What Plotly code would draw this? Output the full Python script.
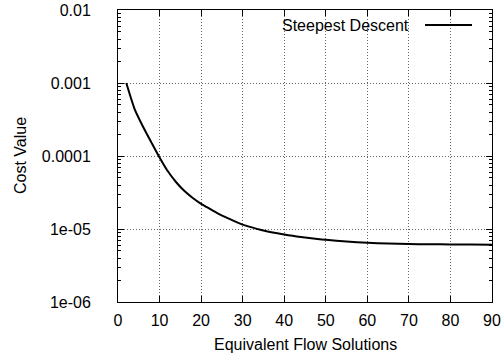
import plotly.graph_objects as go

# Data
solutions = [2, 4, 6, 8, 10, 12, 14, 16, 18, 20, 22, 24, 26, 28, 30, 32, 34, 36, 38, 40,
             42, 44, 46, 48, 50, 55, 60, 65, 70, 75, 80, 85, 90]
cost = [1.0e-3, 4.4e-4, 2.54e-4, 1.55e-4, 9.55e-5, 6.17e-5, 4.37e-5, 3.31e-5, 2.66e-5, 2.21e-5,
        1.90e-5, 1.64e-5, 1.44e-5, 1.28e-5, 1.15e-5, 1.06e-5, 9.84e-6, 9.25e-6, 8.79e-6, 8.41e-6,
        8.07e-6, 7.78e-6, 7.52e-6, 7.30e-6, 7.11e-6, 6.73e-6, 6.46e-6, 6.31e-6, 6.22e-6, 6.18e-6,
        6.15e-6, 6.13e-6, 6.1e-6]
series_name = "Steepest Descent"

x_ticks = [0, 10, 20, 30, 40, 50, 60, 70, 80, 90]
y_ticks = [1e-6, 1e-5, 1e-4, 1e-3, 1e-2]
y_tick_text = ["1e-06", "1e-05", "0.0001", "0.001", "0.01"]
y_minor_ticks = [m * d for d in [1e-6, 1e-5, 1e-4, 1e-3] for m in range(2, 10)]

x_title = "Equivalent Flow Solutions"
y_title = "Cost Value"

FONT = "Liberation Sans, Arial, Helvetica, sans-serif"
FS = 16

fig = go.Figure()
fig.add_trace(go.Scatter(
    x=solutions, y=cost, mode="lines", name=series_name,
    line=dict(color="black", width=2, shape="spline", smoothing=0.6), showlegend=False,
))

axis_common = dict(
    showline=True, linecolor="black", linewidth=1, mirror="allticks",
    ticks="inside", ticklen=6, tickcolor="black", tickwidth=1,
    showgrid=True, gridcolor="#666666", griddash="1px,2px", gridwidth=1,
    zeroline=False, automargin=False,
    tickfont=dict(family=FONT, size=FS, color="black"),
)

fig.update_layout(
    width=503, height=358,
    margin=dict(l=118, r=11, t=10, b=56),
    paper_bgcolor="white", plot_bgcolor="white",
    font=dict(family=FONT, size=FS, color="black"),
    xaxis=dict(
        range=[0, 90], tickvals=x_ticks, ticklabelstandoff=4,
        **axis_common,
    ),
    yaxis=dict(
        type="log", range=[-6, -2], tickvals=y_ticks, ticktext=y_tick_text,
        ticklabelstandoff=23,
        minor=dict(tickvals=y_minor_ticks, ticks="inside", ticklen=3,
                   tickcolor="black", showgrid=False),
        **axis_common,
    ),
    showlegend=False,
)

# axis titles
fig.add_annotation(
    x=-0.262, y=0.5, xref="paper", yref="paper", text=y_title, textangle=-90,
    showarrow=False, xanchor="center", yanchor="middle",
    font=dict(family=FONT, size=FS, color="black"),
)
fig.add_annotation(
    x=0.5, y=-0.147, xref="paper", yref="paper", text=x_title,
    showarrow=False, xanchor="center", yanchor="middle",
    font=dict(family=FONT, size=FS, color="black"),
)

# gnuplot-style key: text followed by line sample
fig.add_annotation(
    x=0.7826, y=0.9486, xref="paper", yref="paper", text=series_name,
    showarrow=False, xanchor="right", yanchor="middle",
    font=dict(family=FONT, size=FS, color="black"),
)
fig.add_shape(
    type="line", xref="paper", yref="paper",
    x0=0.8209, x1=0.9465, y0=0.9486, y1=0.9486,
    line=dict(color="black", width=2),
)

fig.write_html("out.html", config={"displayModeBar": False},
               post_script="document.body.style.margin='0';")
